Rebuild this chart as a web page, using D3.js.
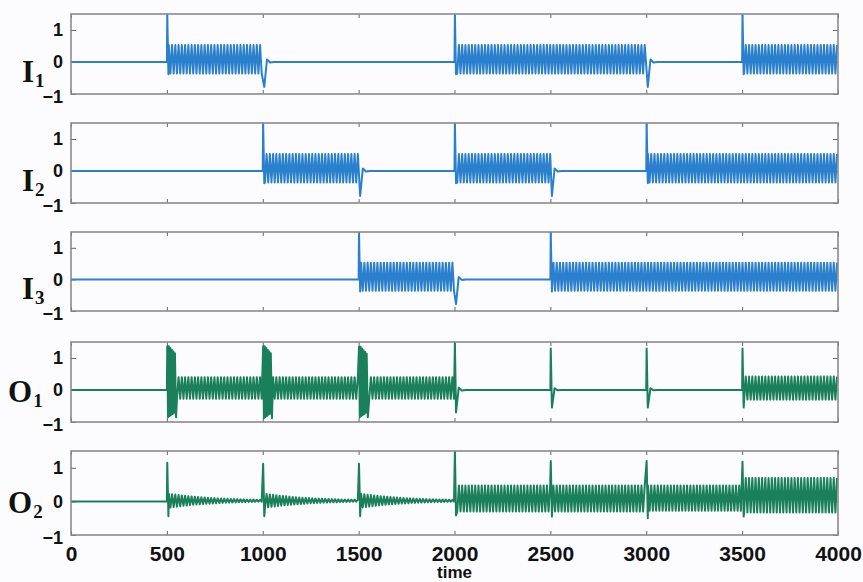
<!DOCTYPE html>
<html>
<head>
<meta charset="utf-8">
<script src="https://cdn.jsdelivr.net/npm/d3@7"></script>
<style>
  body { margin: 0; background: #fcfcfe; }
  svg { display: block; }
</style>
</head>
<body>
<div id="chart"></div>
<script>
/* global d3 */

// Data
const timeTicks = [0, 500, 1000, 1500, 2000, 2500, 3000, 3500, 4000]
const valueTicks = [-1, 0, 1]
const segmentStarts = [0, 500, 1000, 1500, 2000, 2500, 3000, 3500]
const segmentLength = 500
const cycle = 17 // time units per oscillation, counted on the teeth
const burstCycle = 8 // faster ringing in the O1 bursts

const seriesNames = ['I', 'I', 'I', 'O', 'O']
const seriesSubs = ['1', '2', '3', '1', '2']

// oscillation band in each segment: [upper, lower, amplitude left at segment end]
const bandI1 = [[0, 0, 1], [0.53, -0.36, 1], [0, 0, 1], [0, 0, 1], [0.53, -0.36, 1], [0.53, -0.36, 1], [0, 0, 1], [0.53, -0.36, 1]]
const bandI2 = [[0, 0, 1], [0, 0, 1], [0.53, -0.36, 1], [0, 0, 1], [0.53, -0.36, 1], [0, 0, 1], [0.53, -0.36, 1], [0.53, -0.36, 1]]
const bandI3 = [[0, 0, 1], [0, 0, 1], [0, 0, 1], [0.53, -0.36, 1], [0, 0, 1], [0.53, -0.36, 1], [0.53, -0.36, 1], [0.53, -0.36, 1]]
const bandO1 = [[0, 0, 1], [0.4, -0.27, 1], [0.4, -0.27, 1], [0.4, -0.27, 1], [0, 0, 1], [0, 0, 1], [0, 0, 1], [0.42, -0.3, 1]]
const bandO2 = [[0, 0, 1], [0.24, -0.2, 0.12], [0.24, -0.2, 0.12], [0.24, -0.2, 0.12], [0.47, -0.3, 1], [0.47, -0.3, 1], [0.47, -0.28, 1], [0.7, -0.33, 1]]

// transient at each segment start: [peak, trough, cycles of large burst]
const kickI1 = [[0, 0, 0], [1.5, -0.38, 0], [0, -0.78, 0], [0, 0, 0], [1.5, -0.38, 0], [0, 0, 0], [0, -0.78, 0], [1.5, -0.38, 0]]
const kickI2 = [[0, 0, 0], [0, 0, 0], [1.5, -0.38, 0], [0, -0.78, 0], [1.5, -0.38, 0], [0, -0.78, 0], [1.5, -0.38, 0], [0, 0, 0]]
const kickI3 = [[0, 0, 0], [0, 0, 0], [0, 0, 0], [1.5, -0.38, 0], [0, -0.78, 0], [1.5, -0.38, 0], [0, 0, 0], [0, 0, 0]]
const kickO1 = [[0, 0, 0], [1.37, -0.85, 5], [1.37, -0.88, 5], [1.35, -0.85, 5], [1.5, -0.7, 0], [1.3, -0.55, 0], [1.3, -0.55, 0], [1.3, -0.55, 0]]
const kickO2 = [[0, 0, 0], [1.15, -0.44, 0], [1.12, -0.44, 0], [1.12, -0.44, 0], [1.5, -0.42, 0], [1.2, -0.45, 0], [1.2, -0.5, 0], [1.18, -0.45, 0]]

const bands = [bandI1, bandI2, bandI3, bandO1, bandO2]
const kicks = [kickI1, kickI2, kickI3, kickO1, kickO2]
const colors = ['#2a80cc', '#2a80cc', '#2a80cc', '#1a7f5b', '#1a7f5b']

const width = 863
const height = 582
const left = 71
const right = 838
const panelTops = [14, 123, 232, 342, 451]
const panelHeights = [80, 80, 79, 80, 84]

function buildTrace (band, kick) {
  const pts = [[0, 0]]
  const half = cycle / 2
  segmentStarts.forEach((t0, s) => {
    const t1 = t0 + segmentLength
    const [hi, lo, fade] = band[s]
    const [peak, trough, burst] = kick[s]
    let t = t0
    if (peak > 0) {
      t += 2
      pts.push([t, peak])
    }
    for (let k = 0; k < burst; k++) {
      const shrink = 1 - 0.04 * k
      pts.push([t + burstCycle / 2, trough * shrink])
      pts.push([t + burstCycle, peak * shrink])
      t += burstCycle
    }
    if (trough < 0) {
      t += peak > 0 ? 6 : 8
      pts.push([t, trough])
    }
    if (hi !== 0) {
      const mid = (hi + lo) / 2
      // keep the phase running across segments so joins stay seamless
      let n = Math.floor(t / half) + 1
      for (; n * half <= t1; n++) {
        const tt = n * half
        const f = Math.pow(fade, (tt - t0) / segmentLength)
        pts.push([tt, mid + ((n % 2 === 0 ? hi : lo) - mid) * f])
      }
    } else {
      if (trough < 0) {
        pts.push([t + 14, -trough * 0.1])
        pts.push([t + 30, trough * 0.02])
        pts.push([t + 50, 0])
      }
      pts.push([t1, 0])
    }
  })
  return pts
}

const svg = d3.select('#chart')
  .append('svg')
  .attr('width', width)
  .attr('height', height)

svg.append('rect')
  .attr('width', width)
  .attr('height', height)
  .attr('fill', '#fcfcfe')

const x = d3.scaleLinear()
  .domain([0, 4000])
  .range([left, right])

const tickFont = '"Liberation Sans", Arial, sans-serif'
const labelFont = '"Liberation Serif", "Times New Roman", serif'

bands.forEach((band, i) => {
  const top = panelTops[i]
  const panelHeight = panelHeights[i]
  const y = d3.scaleLinear()
    .domain([-1, 1.5])
    .range([top + panelHeight, top])

  const g = svg.append('g')

  g.append('clipPath')
    .attr('id', 'clip' + i)
    .append('rect')
    .attr('x', left)
    .attr('y', top)
    .attr('width', right - left)
    .attr('height', panelHeight)

  // ticks
  const axes = [
    d3.axisLeft(y).tickValues(valueTicks).tickSize(-5).tickPadding(8).tickFormat(d3.format('d')),
    d3.axisRight(y).tickValues(valueTicks).tickSize(-5).tickFormat(''),
    d3.axisTop(x).tickValues(timeTicks).tickSize(-4).tickFormat(''),
    d3.axisBottom(x).tickValues(timeTicks).tickSize(-4).tickPadding(11).tickFormat(d3.format('d'))
  ]
  const shifts = [`translate(${left},0)`, `translate(${right},0)`,
    `translate(0,${top})`, `translate(0,${top + panelHeight})`]
  axes.forEach((ax, k) => {
    if (k === 3 && i !== bands.length - 1) ax.tickFormat('')
    const a = g.append('g')
      .attr('transform', shifts[k])
      .call(ax)
    a.select('.domain').remove()
    a.selectAll('line').attr('stroke', '#666').attr('stroke-width', 1)
    a.selectAll('text')
      .attr('fill', '#111')
      .style('font-family', tickFont)
      .style('font-weight', 'bold')
      .style('font-size', k === 3 ? '21px' : '18px')
    // the -1 label sits a little under the frame in the reference
    if (k === 0) a.selectAll('text').filter(d => d === -1).attr('y', 3)
  })

  g.append('path')
    .datum(buildTrace(band, kicks[i]))
    .attr('clip-path', `url(#clip${i})`)
    .attr('fill', 'none')
    .attr('stroke', colors[i])
    .attr('stroke-width', 2)
    .attr('stroke-linejoin', 'round')
    .attr('d', d3.line().x(d => x(d[0])).y(d => y(d[1])))

  g.append('rect')
    .attr('x', left)
    .attr('y', top)
    .attr('width', right - left)
    .attr('height', panelHeight)
    .attr('fill', 'none')
    .attr('stroke', '#8a8a8a')
    .attr('stroke-width', 1.6)

  // series label, e.g. I with subscript 1
  const isInput = seriesNames[i] === 'I'
  const label = g.append('text')
    .attr('x', isInput ? 22 : 8)
    .attr('y', y(0) + (isInput ? 20 : 12))
    .style('font-family', labelFont)
    .style('font-weight', 'bold')
    .style('font-size', '31px')
    .attr('fill', '#111')
  label.append('tspan').text(seriesNames[i])
  label.append('tspan')
    .attr('dy', 5)
    .attr('dx', 1)
    .style('font-size', '19px')
    .text(seriesSubs[i])
})

svg.append('text')
  .attr('x', (left + right) / 2)
  .attr('y', 578)
  .attr('text-anchor', 'middle')
  .style('font-family', tickFont)
  .style('font-weight', 'bold')
  .style('font-size', '17px')
  .attr('fill', '#111')
  .text('time')
</script>
</body>
</html>
